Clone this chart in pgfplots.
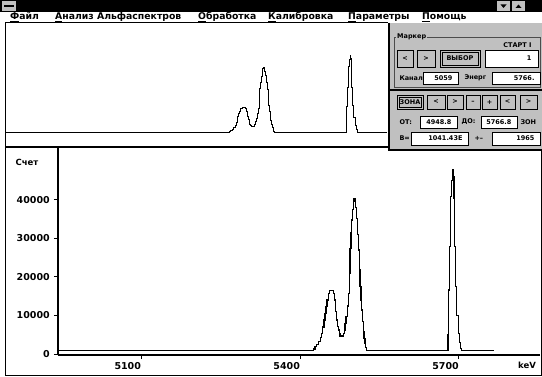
\documentclass[border=0pt]{standalone}
\usepackage{pgfplots}
\usepackage{pgfplotstable}
\pgfplotsset{compat=1.18}
\usepackage{fontspec}
\setmainfont{DejaVu Sans}
\definecolor{wgray}{HTML}{C0C0C0}
\pgfplotstableread{
E c
4943 900
5420 900
5425.2 1300
5428.3 1900
5431 2500
5434.6 3200
5438 4200
5440.9 5370
5443 7000
5445.3 8830
5447 10500
5449.1 12290
5451 14000
5453.5 15750
5456 16450
5459 16450
5462.9 15750
5465 14020
5467 11000
5469.2 8830
5471 7200
5472.3 6230
5474 5200
5475.5 4670
5480.5 4670
5482 5400
5483.7 6230
5485 8000
5486.8 9700
5489 12500
5491.2 15750
5493 21000
5494.4 27440
5496 31500
5497.5 34800
5499 37500
5500.6 39560
5502 40300
5503.8 39800
5505 38000
5506.9 35230
5509 31000
5510.7 27010
5512 22000
5513.2 17490
5515 14000
5516.4 11430
5518 8500
5519.5 5800
5521 4000
5522.7 2770
5524 1700
5525.8 900
5678.6 900
5679.5 5000
5680.5 16620
5682.5 28000
5684.3 40860
5686 45000
5688.1 47790
5689.5 46000
5690.6 40430
5692 28000
5693.7 17490
5696 10000
5698.8 5370
5701 3000
5703.2 1470
5705 900
5766.7 900
}\spectrum
\newcommand{\pf}{\bfseries\fontsize{6.5}{7}\selectfont}
\begin{document}
\begin{tikzpicture}[x=1pt,y=1pt,font=\bfseries\fontsize{9.3}{10}\selectfont,
  btn/.style={draw=black,fill=wgray,line width=0.8pt},
  fld/.style={draw=black,fill=white,line width=0.8pt}]
\path[use as bounding box] (0,0) rectangle (542,376);
\fill[white] (0,0) rectangle (542,376);
% title bar
\fill[black] (0,364) rectangle (542,376);
\fill[wgray] (2,365) rectangle (16,375);
\fill[black] (4,369) rectangle (14,371);
\fill[wgray] (497,365) rectangle (510,375);
\fill[black] (500.5,371.5) -- (506.5,371.5) -- (503.5,368) -- cycle;
\fill[wgray] (512,365) rectangle (525,375);
\fill[black] (515.5,368) -- (521.5,368) -- (518.5,371.5) -- cycle;
% menu
\node[anchor=base west,inner sep=0pt] at (10,356) {\underline{Ф}айл};
\node[anchor=base west,inner sep=0pt] at (55,356) {\underline{А}нализ Альфаспектров};
\node[anchor=base west,inner sep=0pt] at (198,356) {\underline{О}бработка};
\node[anchor=base west,inner sep=0pt] at (268,356) {\underline{К}алибровка};
\node[anchor=base west,inner sep=0pt] at (348,356) {\underline{П}араметры};
\node[anchor=base west,inner sep=0pt] at (422,356) {\underline{П}омощь};
% frames
\draw[line width=1pt] (5,376-23) -- (388,376-23);
\draw[line width=1.5pt] (5.5,376-23) -- (5.5,1);
\draw[line width=1.5pt] (5,376-147) -- (390,376-147);
\draw[line width=1pt] (5,1) -- (541,1) -- (541,376-150);
% upper spectrum
\begin{axis}[at={(6pt,240pt)},anchor=south west,scale only axis,
  width=382pt,height=112pt,hide axis,
  xmin=4948.5,xmax=5769.8,ymin=-1007,ymax=66460,clip=true]
\addplot[const plot,black,line width=0.9pt] table[x=E,y=c] {\spectrum};
\end{axis}
% lower spectrum
\begin{axis}[at={(58pt,21pt)},anchor=south west,scale only axis,
  width=482pt,height=207pt,
  xmin=4943,xmax=5853,ymin=-260,ymax=53500,
  axis x line*=bottom, axis y line*=left,
  axis line style={line width=1.5pt,-},
  xtick={5100,5400,5700},ytick={0,10000,20000,30000,40000},
  scaled y ticks=false,scaled x ticks=false,
  /pgf/number format/set thousands separator={},
  /pgf/number format/assume math mode=true,
  tick align=outside,major tick length=4pt,
  tick style={black,line width=1pt},
  ticklabel style={font=\bfseries\fontsize{9.5}{10}\selectfont,inner sep=0pt},
  yticklabel style={anchor=east,xshift=-4pt},
  xticklabel style={anchor=north east,yshift=-3pt},
  clip=false]
\addplot[const plot,black,line width=1.3pt] table[x=E,y=c] {\spectrum};
\end{axis}
\node[font=\bfseries\fontsize{8.5}{9}\selectfont] at (27,376-162) {Счет};
\node[font=\bfseries\fontsize{8.5}{9}\selectfont] at (527,376-365) {keV};
% control panel
\fill[wgray] (389,376-23) rectangle (542,376-150);
\draw[line width=2pt] (389,376-23) -- (389,376-150);
\draw[line width=1.5pt] (388,376-150) -- (542,376-150);
\draw[draw=black!70,line width=0.8pt] (394,376-37) rectangle (540,376-87);
\node[anchor=west,font=\pf,fill=wgray,inner sep=1pt] at (396,376-37) {Маркер};
\node[anchor=east,font=\pf] at (535,376-45) {СТАРТ I};
\draw[btn] (397,376-50) rectangle (413,376-67); \node[font=\pf] at (405,376-58.5) {<};
\draw[btn] (417,376-50) rectangle (435,376-67); \node[font=\pf] at (426,376-58.5) {>};
\draw[btn] (440,376-50) rectangle (480,376-67); \draw[line width=0.6pt] (442,376-52) rectangle (478,376-65);
\node[font=\pf] at (460,376-58.5) {ВЫБОР};
\draw[fld] (485,376-50) rectangle (538,376-67); \node[anchor=east,font=\pf] at (535,376-58.5) {1};
\node[anchor=west,font=\pf] at (396,376-78) {Канал};
\draw[fld] (423,376-72) rectangle (458,376-84); \node[anchor=east,font=\pf] at (456,376-78) {5059};
\node[anchor=west,font=\pf] at (461,376-78) {Энерг};
\draw[fld] (492,376-72) rectangle (540,376-84); \node[anchor=east,font=\pf] at (538,376-78) {5766.};
\draw[line width=1.5pt] (389,376-90) -- (542,376-90);
\draw[btn] (397,376-95) rectangle (423,376-109); \draw[line width=0.6pt] (399,376-97) rectangle (421,376-107);
\node[font=\pf] at (410,376-102) {ЗОНА};
\draw[btn] (427,376-95) rectangle (445,376-109); \node[font=\pf] at (436,376-102) {<};
\draw[btn] (447,376-95) rectangle (463,376-109); \node[font=\pf] at (455,376-102) {>};
\draw[btn] (466,376-95) rectangle (480,376-109); \node[font=\pf] at (473,376-102) {–};
\draw[btn] (482,376-95) rectangle (497,376-109); \node[font=\pf] at (489.5,376-102) {+};
\draw[btn] (500,376-95) rectangle (515,376-109); \node[font=\pf] at (507.5,376-102) {<};
\draw[btn] (520,376-95) rectangle (537,376-109); \node[font=\pf] at (528.5,376-102) {>};
\node[anchor=west,font=\pf] at (396,376-122) {ОТ:};
\draw[fld] (420,376-116) rectangle (457,376-128); \node[anchor=east,font=\pf] at (455,376-122) {4948.8};
\node[anchor=west,font=\pf] at (458,376-122) {ДО:};
\draw[fld] (481,376-116) rectangle (517,376-128); \node[anchor=east,font=\pf] at (515,376-122) {5766.8};
\node[anchor=west,font=\pf] at (517,376-122) {ЗОН};
\node[anchor=west,font=\pf] at (396,376-138.5) {В=};
\draw[fld] (411,376-132) rectangle (468,376-145); \node[anchor=east,font=\pf] at (466,376-138.5) {1041.43E};
\node[anchor=west,font=\pf] at (471,376-138.5) {+–};
\draw[fld] (492,376-132) rectangle (540,376-145); \node[anchor=east,font=\pf] at (538,376-138.5) {1965};
\end{tikzpicture}
\end{document}
